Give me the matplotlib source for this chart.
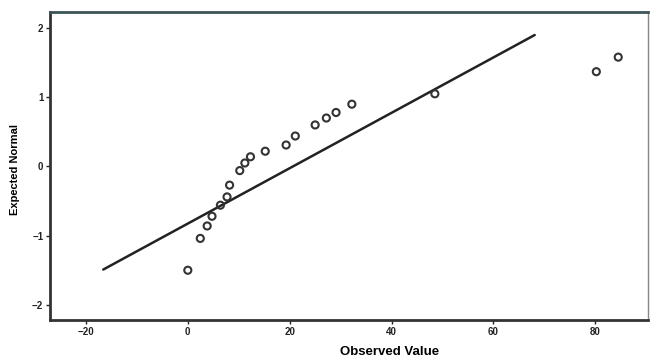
import numpy as np
import matplotlib.pyplot as plt

plt.rcParams['font.family'] = ['Liberation Sans', 'DejaVu Sans']

# Normal Q-Q plot
observed = [0.0, 2.45, 3.8, 4.75, 6.4, 7.7, 8.2, 10.2, 11.2, 12.3,
            15.2, 19.3, 21.1, 25.0, 27.2, 29.1, 32.2, 48.5, 80.2, 84.5]
expected = [-1.50, -1.04, -0.86, -0.72, -0.56, -0.44, -0.27, -0.06, 0.05, 0.14,
            0.22, 0.31, 0.44, 0.60, 0.70, 0.78, 0.90, 1.05, 1.37, 1.58]

# referenzlinie (endpunkte)
line_x = [-16.6, 68.1]
line_y = [-1.49, 1.90]

x_ticks = [-20, 0, 20, 40, 60, 80]
y_ticks = [-2, -1, 0, 1, 2]

fig = plt.figure(figsize=(6.53, 3.58), dpi=100)
ax = fig.add_axes([0.077, 0.106, 0.915, 0.86])

ax.plot(line_x, line_y, color='#222222', linewidth=1.8, solid_capstyle='round')
ax.scatter(observed, expected, s=26, facecolors='none', edgecolors='#333333',
           linewidths=1.5, zorder=3)

ax.set_xlim(-27, 90.3)
ax.set_ylim(-2.22, 2.23)
ax.set_xticks(x_ticks)
ax.set_yticks(y_ticks)
ax.tick_params(labelsize=7, length=3, width=1, colors='#222222', pad=2)
for lab in ax.get_xticklabels() + ax.get_yticklabels():
    lab.set_fontweight('bold')

for side in ['left', 'bottom']:
    ax.spines[side].set_linewidth(2)
    ax.spines[side].set_color('#333333')
ax.spines['top'].set_linewidth(2)
ax.spines['top'].set_color('#3c5558')
ax.spines['right'].set_linewidth(1)
ax.spines['right'].set_color('#888888')

ax.set_xlabel('Observed Value', fontsize=9.5, fontweight='bold')
ax.xaxis.set_label_coords(0.568, -0.085)
ax.set_ylabel('Expected Normal', fontsize=8, fontweight='bold')
ax.yaxis.set_label_coords(-0.05, 0.49)

plt.savefig('out.png', dpi=100)
plt.close()
